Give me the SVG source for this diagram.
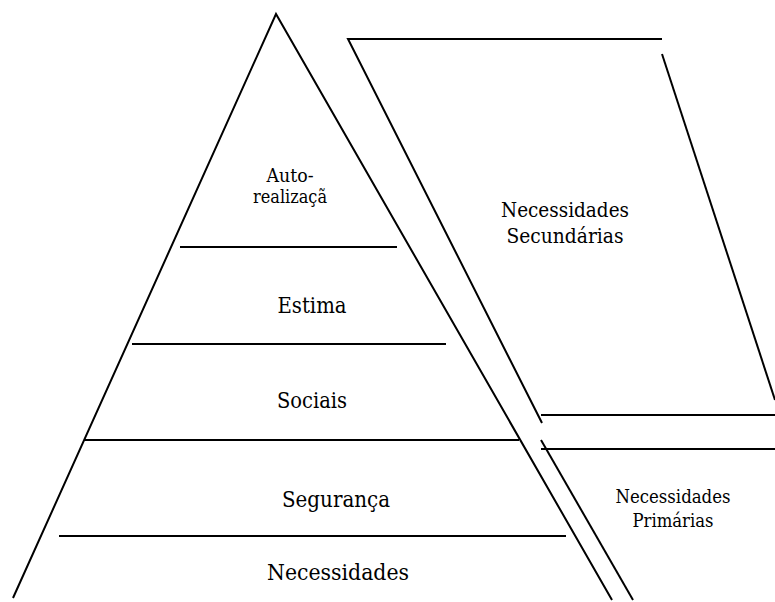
<svg xmlns="http://www.w3.org/2000/svg" width="775" height="602" viewBox="0 0 775 602">
<style>
.ln{stroke:#000;stroke-width:2;fill:none;stroke-linecap:butt}
text{font-family:"DejaVu Serif Condensed","DejaVu Serif",serif;font-stretch:condensed;fill:#000;text-anchor:middle}
</style>
<rect width="775" height="602" fill="#fff"/>
<g id="connectors">
<polyline class="ln" points="13,598 276,14 612,600"/>
<line class="ln" x1="180" y1="247" x2="397" y2="247"/>
<line class="ln" x1="132" y1="344" x2="446" y2="344"/>
<line class="ln" x1="84" y1="440" x2="519" y2="440"/>
<line class="ln" x1="59" y1="536" x2="566" y2="536"/>
<polyline class="ln" points="662,39 348,39 542,423"/>
<line class="ln" x1="662" y1="54" x2="775" y2="400"/>
<line class="ln" x1="541" y1="415" x2="775" y2="415"/>
<line class="ln" x1="541" y1="449" x2="775" y2="449"/>
<line class="ln" x1="541" y1="440" x2="633" y2="600"/>
</g>
<g id="auto-realizacao">
<text x="290" y="182" font-size="18" textLength="47" lengthAdjust="spacingAndGlyphs">Auto-</text>
<text x="290" y="203" font-size="18" textLength="74" lengthAdjust="spacingAndGlyphs">realizaçã</text>
</g>
<g id="estima"><text x="312" y="313" font-size="22" textLength="69" lengthAdjust="spacingAndGlyphs">Estima</text></g>
<g id="sociais"><text x="312" y="408" font-size="22" textLength="70" lengthAdjust="spacingAndGlyphs">Sociais</text></g>
<g id="seguranca"><text x="336" y="507" font-size="23" textLength="108" lengthAdjust="spacingAndGlyphs">Segurança</text></g>
<g id="necessidades"><text x="338" y="580" font-size="23" textLength="142" lengthAdjust="spacingAndGlyphs">Necessidades</text></g>
<g id="secundarias">
<text x="565" y="217" font-size="21" textLength="128" lengthAdjust="spacingAndGlyphs">Necessidades</text>
<text x="565" y="243" font-size="21" textLength="117" lengthAdjust="spacingAndGlyphs">Secundárias</text>
</g>
<g id="primarias">
<text x="673" y="503" font-size="18" textLength="115" lengthAdjust="spacingAndGlyphs">Necessidades</text>
<text x="673" y="527" font-size="18" textLength="81" lengthAdjust="spacingAndGlyphs">Primárias</text>
</g>
</svg>
